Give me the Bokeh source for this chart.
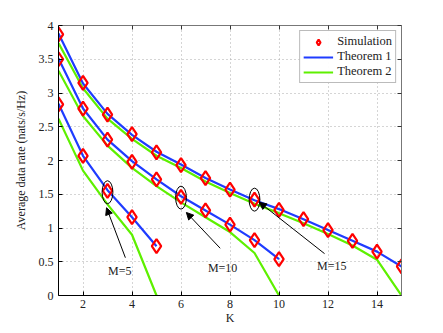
from bokeh.plotting import figure
from bokeh.models import (Range1d, LinearAxis, Legend, LegendItem, Arrow, NormalHead,
                          FixedTicker, ColumnDataSource)
from bokeh.core.properties import value
from bokeh.embed import file_html
from bokeh.resources import INLINE

# ---- data ----
K15 = list(range(1, 16))
K10 = list(range(1, 11))
K5 = list(range(1, 6))

sim_M15 = [3.87, 3.15, 2.68, 2.39, 2.12, 1.93, 1.74, 1.57, 1.42, 1.27, 1.13, 0.97, 0.81, 0.65, 0.43]
th1_M15 = [3.88, 3.14, 2.69, 2.38, 2.13, 1.94, 1.74, 1.57, 1.41, 1.28, 1.13, 0.97, 0.81, 0.65, 0.43]
th2_M15 = [3.74, 3.07, 2.62, 2.32, 2.07, 1.89, 1.69, 1.52, 1.36, 1.22, 1.07, 0.91, 0.74, 0.53, 0.00]

sim_M10 = [3.50, 2.77, 2.31, 1.98, 1.72, 1.46, 1.26, 1.05, 0.82, 0.54]
th1_M10 = [3.51, 2.77, 2.31, 1.99, 1.72, 1.47, 1.26, 1.05, 0.82, 0.54]
th2_M10 = [3.33, 2.66, 2.22, 1.89, 1.62, 1.38, 1.16, 0.94, 0.63, 0.00]

sim_M5 = [2.83, 2.07, 1.55, 1.16, 0.73]
th1_M5 = [2.84, 2.07, 1.56, 1.16, 0.73]
th2_M5 = [2.62, 1.85, 1.35, 0.90, 0.00]

# annotations: label, text position, arrow start, arrow end (ellipse centre)
ann_labels = ["M=5", "M=10", "M=15"]
ann_text_x = [3.5, 7.7, 12.15]
ann_text_y = [0.37, 0.41, 0.43]
ann_from_x = [3.73, 7.6, 11.86]
ann_from_y = [0.56, 0.70, 0.62]
ann_to_x = [2.96, 6.22, 9.2]
ann_to_y = [1.30, 1.23, 1.38]
ell_x = [3.0, 6.0, 9.0]
ell_y = [1.53, 1.45, 1.42]

x_ticks = [2, 4, 6, 8, 10, 12, 14]
y_ticks = [0, 0.5, 1, 1.5, 2, 2.5, 3, 3.5, 4]

BLUE = "#1f3cff"
GREEN = "#5ef000"
RED = "#ff0000"
SERIF = "Liberation Serif"

p = figure(frame_width=343, frame_height=270, output_backend="svg", toolbar_location=None,
           x_range=Range1d(1, 15), y_range=Range1d(0, 4),
           min_border_left=58, min_border_right=34, min_border_top=25, min_border_bottom=30,
           background_fill_color="white", border_fill_color="white")
p.outline_line_color = None

for ax in (p.xaxis[0], p.yaxis[0]):
    ax.major_tick_in = 4
    ax.major_tick_out = 0
    ax.minor_tick_line_color = None
    ax.axis_line_color = "black"
    ax.major_tick_line_color = "black"
    ax.major_label_text_font = SERIF
    ax.major_label_text_font_size = "12px"
    ax.major_label_text_color = "#222222"
    ax.axis_label_text_font = SERIF
    ax.axis_label_text_font_size = "12px"
    ax.axis_label_text_font_style = "normal"
    ax.axis_label_text_color = "#222222"

p.xaxis.ticker = FixedTicker(ticks=x_ticks)
p.yaxis.ticker = FixedTicker(ticks=y_ticks)
p.xaxis.axis_label = "K"
p.yaxis.axis_label = "Average data rate (nats/s/Hz)"
p.xaxis.major_label_standoff = 4
p.xaxis.axis_label_standoff = 0
p.yaxis.major_label_standoff = 5
p.yaxis.axis_label_standoff = 8

# box axes top/right (tick marks only, labels blank)
top = LinearAxis(ticker=FixedTicker(ticks=x_ticks),
                 major_label_overrides={t: "" for t in x_ticks},
                 major_tick_in=4, major_tick_out=0, minor_tick_line_color=None,
                 axis_line_color="#777777", major_tick_line_color="#333333",
                 major_label_standoff=0)
right = LinearAxis(ticker=FixedTicker(ticks=y_ticks),
                   major_label_overrides={t: "" for t in y_ticks},
                   major_tick_in=4, major_tick_out=0, minor_tick_line_color=None,
                   axis_line_color="#777777", major_tick_line_color="#333333",
                   major_label_standoff=0)
p.add_layout(top, "above")
p.add_layout(right, "right")

p.xgrid.ticker = FixedTicker(ticks=x_ticks)
p.ygrid.ticker = FixedTicker(ticks=y_ticks)
for g in (p.xgrid, p.ygrid):
    g.grid_line_color = "#aaaaaa"
    g.grid_line_dash = "1 3"
    g.grid_line_width = 1

# Theorem 2 (green) first, then Theorem 1 (blue), then markers
g_lines = []
b_lines = []
for kx, ys in ((K15, th2_M15), (K10, th2_M10), (K5, th2_M5)):
    g_lines.append(p.line(kx, ys, line_color=GREEN, line_width=2.2))
for kx, ys in ((K15, th1_M15), (K10, th1_M10), (K5, th1_M5)):
    b_lines.append(p.line(kx, ys, line_color=BLUE, line_width=2.2))
sims = []
for kx, ys in ((K15, sim_M15), (K10, sim_M10), (K5, sim_M5)):
    sims.append(p.scatter(kx, ys, marker="diamond", size=14, fill_color=None,
                          line_color=RED, line_width=2.2))

# ellipses
p.ellipse(x=ell_x, y=ell_y, width=0.44, height=0.34, fill_color=None,
          line_color="black", line_width=1)

# arrows
src = ColumnDataSource(dict(x0=ann_from_x, y0=ann_from_y, x1=ann_to_x, y1=ann_to_y))
p.add_layout(Arrow(x_start="x0", y_start="y0", x_end="x1", y_end="y1", source=src,
                   line_color="black", line_width=1,
                   end=NormalHead(size=7, fill_color="black", line_color="black", line_width=1)))

p.text(x=ann_text_x, y=ann_text_y, text=ann_labels, text_font=value(SERIF),
       text_font_size="12px", text_align="center", text_baseline="middle",
       text_color="#222222")

legend = Legend(items=[LegendItem(label="Simulation", renderers=[sims[0]]),
                       LegendItem(label="Theorem 1", renderers=[b_lines[0]]),
                       LegendItem(label="Theorem 2", renderers=[g_lines[0]])],
                location="top_right")
legend.label_text_font = SERIF
legend.label_text_font_size = "12.5px"
legend.label_text_color = "#222222"
legend.border_line_color = "#777777"
legend.border_line_width = 1.5
legend.margin = 5
legend.padding = 3
legend.spacing = 0
legend.label_height = 14
legend.glyph_height = 14
legend.glyph_width = 30
legend.label_standoff = 4
p.add_layout(legend)

open("out.html", "w").write(file_html(p, INLINE))
